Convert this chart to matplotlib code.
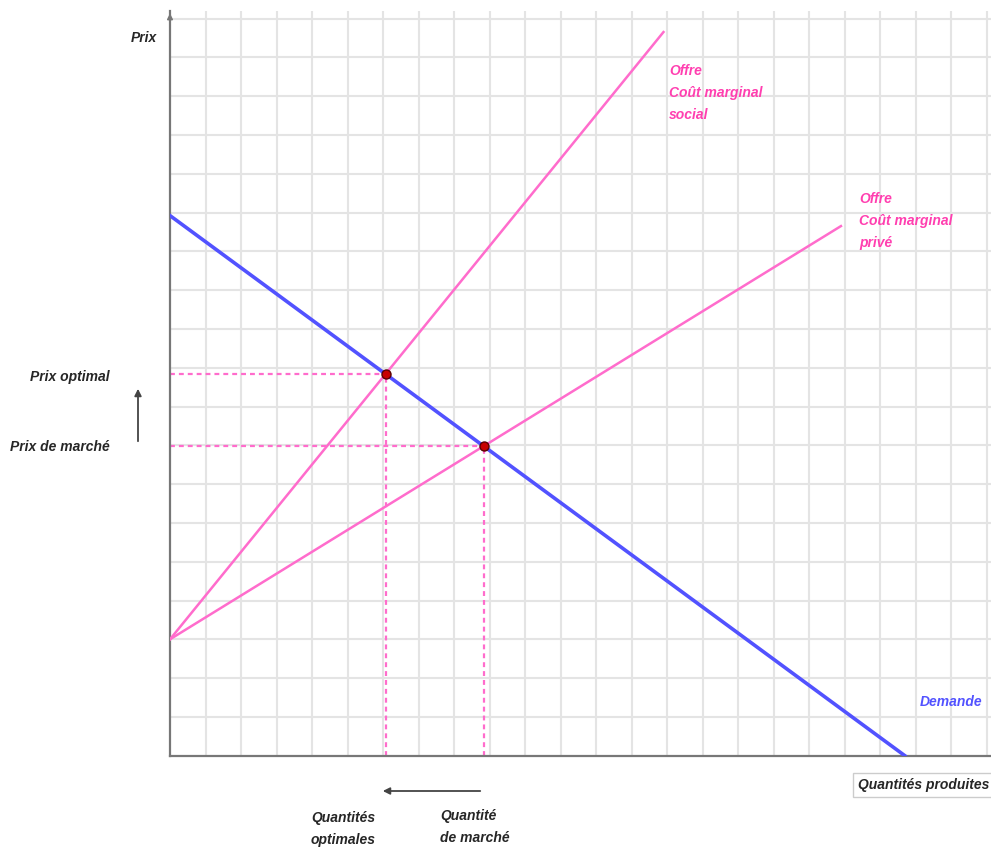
import numpy as np
import matplotlib
matplotlib.use("Agg")
import matplotlib.pyplot as plt

# ---- data (grid units) ----
demand_x = [0.0, 20.7]
demand_y = [13.92, 0.0]
social_x = [0.0, 13.9]
social_y = [3.0, 18.65]
private_x = [0.0, 18.9]
private_y = [3.0, 13.65]

grid_cols = 23
grid_rows = 19

labels_left = ["Prix optimal", "Prix de marché"]
label_supply_social = "Offre\nCoût marginal\nsocial"
label_supply_private = "Offre\nCoût marginal\nprivé"
label_demand = "Demande"
label_xaxis = "Quantités produites"
label_yaxis = "Prix"
label_q_opt = "Quantités\noptimales"
label_q_mkt = "Quantité\nde marché"

PINK = "#ff6ccc"
BLUE = "#5252ff"
TXT = "#262626"
FONT = "Liberation Sans"


def line_coef(xs, ys):
    m = (ys[1] - ys[0]) / (xs[1] - xs[0])
    return m, ys[0] - m * xs[0]


def intersect(a, b):
    m1, c1 = line_coef(*a)
    m2, c2 = line_coef(*b)
    x = (c2 - c1) / (m1 - m2)
    return x, m1 * x + c1


opt = intersect((demand_x, demand_y), (social_x, social_y))
mkt = intersect((demand_x, demand_y), (private_x, private_y))

W, H = 991, 848
fig = plt.figure(figsize=(W / 100, H / 100), dpi=100)
x0, x1 = 170, 991
y_bot, y_top = 755.7, 10.5
ax = fig.add_axes([x0 / W, (H - y_bot) / H, (x1 - x0) / W, (y_bot - y_top) / H])
xmax = (x1 - x0) / 35.5
ymax = (y_bot - y_top) / 38.8
ax.set_xlim(0, xmax)
ax.set_ylim(0, ymax)

for i in range(1, grid_cols + 1):
    ax.axvline(i, color="#e4e4e4", lw=1.5, zorder=0)
for j in range(1, grid_rows + 1):
    ax.axhline(j, color="#e4e4e4", lw=1.5, zorder=0)

for s in ["top", "right"]:
    ax.spines[s].set_visible(False)
for s in ["left", "bottom"]:
    ax.spines[s].set_color("#777777")
    ax.spines[s].set_linewidth(1.6)
ax.set_xticks([])
ax.set_yticks([])
ax.annotate("", xy=(0, ymax), xytext=(0, ymax - 0.5),
            arrowprops=dict(arrowstyle="-|>", color="#777777", lw=1.2, mutation_scale=8),
            annotation_clip=False)

ax.plot(demand_x, demand_y, color=BLUE, lw=2.6, zorder=3)
ax.plot(social_x, social_y, color=PINK, lw=1.8, zorder=3)
ax.plot(private_x, private_y, color=PINK, lw=1.8, zorder=3)

for (px, py) in (opt, mkt):
    ax.plot([0, px], [py, py], color=PINK, lw=1.6, ls=(0, (2.2, 1.8)), zorder=2)
    ax.plot([px, px], [0, py], color=PINK, lw=1.6, ls=(0, (2.2, 1.8)), zorder=2)
    ax.plot(px, py, "o", color="#c80000", ms=6.5, mec="#5a0000", mew=1.0, zorder=5)

tk = dict(fontfamily=FONT, fontweight="bold", fontstyle="italic", fontsize=10)

def fx(p):
    return p / W

def fy(p):
    return 1 - p / H

fig.text(fx(157), fy(38), label_yaxis, color=TXT, ha="right", va="center", **tk)
fig.text(fx(110), fy(377), labels_left[0], color=TXT, ha="right", va="center", **tk)
fig.text(fx(110), fy(447), labels_left[1], color=TXT, ha="right", va="center", **tk)
fig.add_artist(matplotlib.patches.FancyArrowPatch((fx(138), fy(444)), (fx(138), fy(386)),
                                                  transform=fig.transFigure, arrowstyle="-|>",
                                                  mutation_scale=10, color="#444444", lw=1.3))
fig.add_artist(matplotlib.patches.FancyArrowPatch((fx(483), fy(791)), (fx(380), fy(791)),
                                                  transform=fig.transFigure, arrowstyle="-|>",
                                                  mutation_scale=10, color="#444444", lw=1.3))
fig.text(fx(343), fy(829), label_q_opt, color=TXT, ha="center", va="center",
         linespacing=1.75, **tk)
fig.text(fx(440), fy(827), label_q_mkt, color=TXT, ha="left", va="center",
         linespacing=1.75, **tk)
fig.text(fx(669), fy(93), label_supply_social, color="#ff3fb0", ha="left", va="center",
         linespacing=1.75, **tk)
fig.text(fx(859), fy(221), label_supply_private, color="#ff3fb0", ha="left", va="center",
         linespacing=1.75, **tk)
fig.text(fx(920), fy(702), label_demand, color=BLUE, ha="left", va="center", **tk)
fig.text(fx(858), fy(785), label_xaxis, color=TXT, ha="left", va="center",
         bbox=dict(boxstyle="square,pad=0.35", fc="white", ec="#cccccc", lw=1), **tk)

fig.savefig("out.png", dpi=100)
